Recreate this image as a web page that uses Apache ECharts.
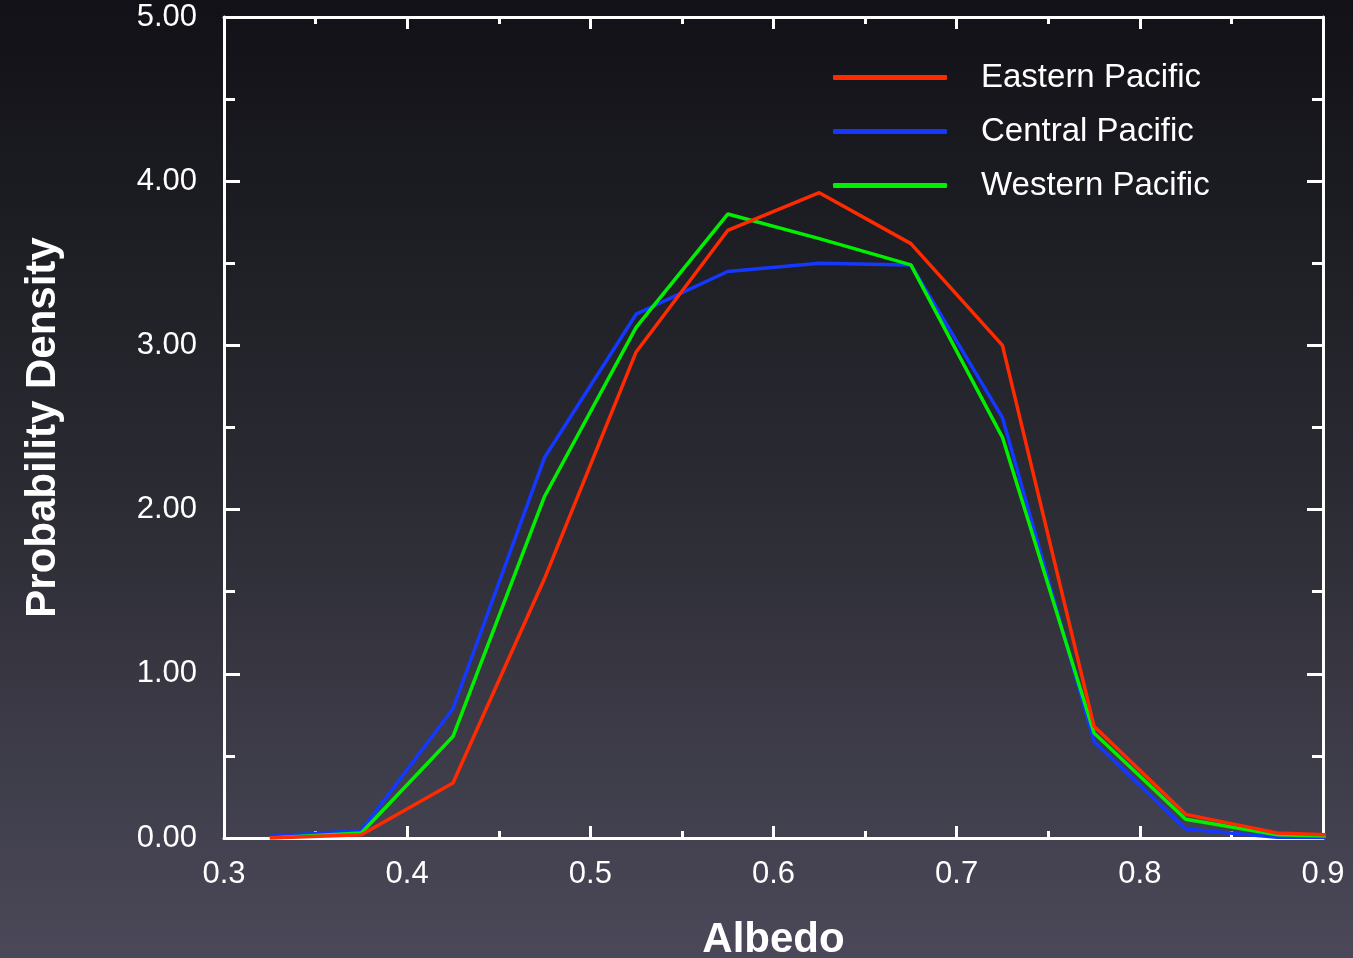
<!DOCTYPE html>
<html>
<head>
<meta charset="utf-8">
<script src="https://cdn.jsdelivr.net/npm/echarts@6/dist/echarts.min.js"></script>
<style>
html,body{margin:0;padding:0;width:1353px;height:958px;overflow:hidden;background:#222;}
#chart{width:1353px;height:958px;}
</style>
</head>
<body>
<div id="chart"></div>
<script>
var albedo = [0.325, 0.375, 0.425, 0.475, 0.525, 0.575, 0.625, 0.675, 0.725, 0.775, 0.825, 0.875, 0.925];
var eastern = [0.00, 0.02, 0.335, 1.58, 2.96, 3.70, 3.93, 3.62, 3.00, 0.68, 0.144, 0.03, 0.01];
var central = [0.01, 0.045, 0.787, 2.317, 3.19, 3.45, 3.50, 3.49, 2.56, 0.587, 0.055, 0.005, 0.0];
var western = [0.00, 0.03, 0.618, 2.08, 3.11, 3.80, 3.65, 3.49, 2.44, 0.64, 0.114, 0.02, 0.005];
var seriesNames = ['Eastern Pacific', 'Central Pacific', 'Western Pacific'];
var seriesColors = ['#ff2a00', '#1438ff', '#00f000'];

function pairs(xs, ys) { return xs.map(function (x, i) { return [x, ys[i]]; }); }

var chart = echarts.init(document.getElementById('chart'));
var fontFamily = '"Liberation Sans", Arial, Helvetica, sans-serif';
var axisLineStyle = { color: '#ffffff', width: 3 };

var xCommon = {
  type: 'value', min: 0.3, max: 0.9, interval: 0.1,
  axisLine: { show: true, onZero: false, lineStyle: axisLineStyle },
  axisTick: { show: true, inside: true, length: 12, lineStyle: { color: '#fff', width: 3 } },
  minorTick: { show: true, splitNumber: 2, length: 7, lineStyle: { color: '#fff', width: 3 } },
  splitLine: { show: false }
};
var yCommon = {
  type: 'value', min: 0, max: 5, interval: 1,
  axisLine: { show: true, onZero: false, lineStyle: axisLineStyle },
  axisTick: { show: true, inside: true, length: 16, lineStyle: { color: '#fff', width: 3 } },
  minorTick: { show: true, splitNumber: 2, length: 11, lineStyle: { color: '#fff', width: 3 } },
  splitLine: { show: false }
};

var seriesData = [central, western, eastern];
var seriesIdx = [1, 2, 0];

chart.setOption({
  backgroundColor: new echarts.graphic.LinearGradient(0, 0, 0, 1, [
    { offset: 0, color: '#111117' },
    { offset: 0.5, color: '#2a2a32' },
    { offset: 1, color: '#4b4959' }
  ]),
  animation: false,
  grid: { left: 224, right: 30, top: 17, bottom: 120, containLabel: false, outerBoundsMode: 'none' },
  legend: {
    orient: 'vertical', left: 828, top: 56,
    data: seriesNames,
    icon: 'roundRect', itemWidth: 114, itemHeight: 5, itemGap: 21,
    textStyle: { color: '#ffffff', fontSize: 33, fontFamily: fontFamily, padding: [0, 0, 0, 29], lineHeight: 33 }
  },
  xAxis: [
    Object.assign({}, xCommon, {
      position: 'bottom',
      name: 'Albedo', nameLocation: 'middle', nameGap: 81,
      nameTextStyle: { color: '#ffffff', fontSize: 42, fontWeight: 'bold', fontFamily: fontFamily },
      axisLabel: { show: true, color: '#ffffff', fontSize: 31, fontFamily: fontFamily, margin: 21,
        formatter: function (v) { return v.toFixed(1); } }
    }),
    Object.assign({}, xCommon, { position: 'top', axisLabel: { show: false } })
  ],
  yAxis: [
    Object.assign({}, yCommon, {
      position: 'left',
      name: 'Probability Density', nameLocation: 'middle', nameGap: 160, nameRotate: 90,
      nameTextStyle: { color: '#ffffff', fontSize: 42, fontWeight: 'bold', fontFamily: fontFamily },
      axisLabel: { show: true, color: '#ffffff', fontSize: 31, fontFamily: fontFamily, margin: 27,
        formatter: function (v) { return v.toFixed(2); } }
    }),
    Object.assign({}, yCommon, { position: 'right', axisLabel: { show: false } })
  ],
  series: seriesIdx.map(function (k, j) {
    return {
      name: seriesNames[k], type: 'line', xAxisIndex: 0, yAxisIndex: 0,
      data: pairs(albedo, seriesData[j]),
      showSymbol: false, symbol: 'none', clip: true,
      lineStyle: { color: seriesColors[k], width: 3.5 },
      itemStyle: { color: seriesColors[k] },
      z: 2 + j
    };
  })
});
</script>
</body>
</html>
